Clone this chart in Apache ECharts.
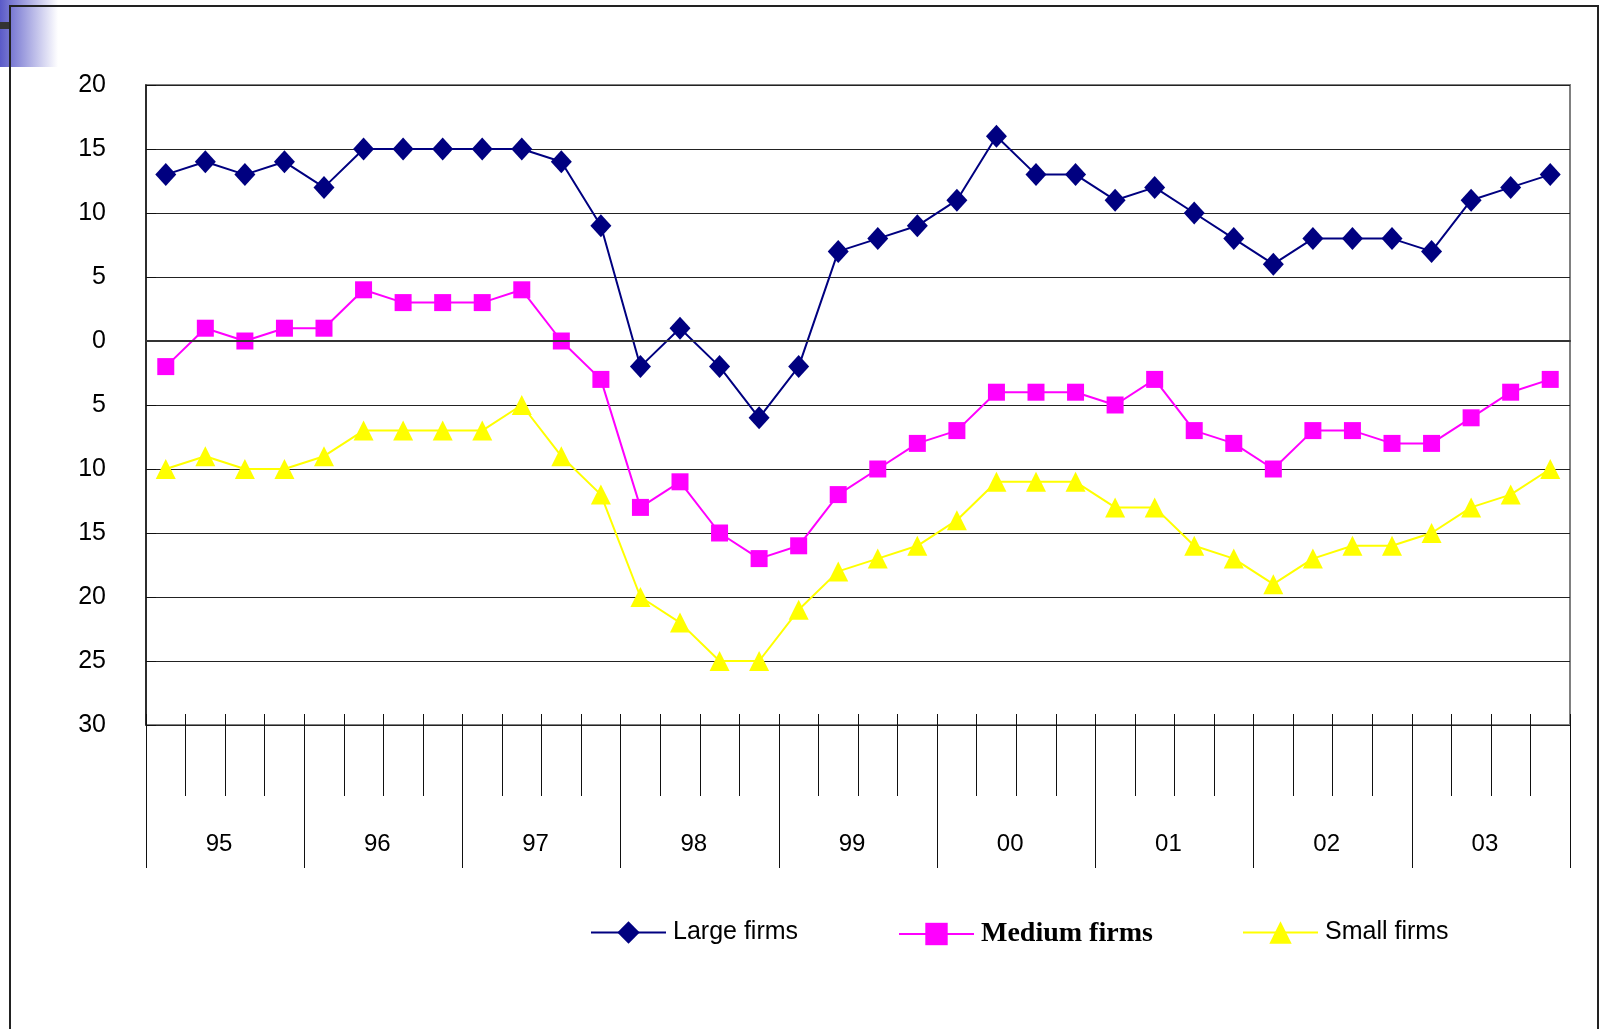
<!DOCTYPE html>
<html>
<head>
<meta charset="utf-8">
<title>Large, medium and small firms</title>
<script src="https://cdn.jsdelivr.net/npm/echarts@6/dist/echarts.min.js"></script>
<style>
  html, body { margin: 0; padding: 0; background: #fff; }
  #chart { width: 1600px; height: 1029px; }
</style>
</head>
<body>
<div id="chart"></div>
<script>
// Year labels along the bottom band, four quarters per year
const yearLabels = ['95', '96', '97', '98', '99', '00', '01', '02', '03'];
const quarterLabels = [];
yearLabels.forEach(function (y) {
  for (let q = 1; q <= 4; q++) quarterLabels.push(y + ' Q' + q);
});

// Quarterly balances by firm size
const largeFirms = [13, 14, 13, 14, 12, 15, 15, 15, 15, 15, 14, 9,
                    -2, 1, -2, -6, -2, 7, 8, 9, 11, 16, 13, 13,
                    11, 12, 10, 8, 6, 8, 8, 8, 7, 11, 12, 13];
const mediumFirms = [-2, 1, 0, 1, 1, 4, 3, 3, 3, 4, 0, -3,
                     -13, -11, -15, -17, -16, -12, -10, -8, -7, -4, -4, -4,
                     -5, -3, -7, -8, -10, -7, -7, -8, -8, -6, -4, -3];
const smallFirms = [-10, -9, -10, -10, -9, -7, -7, -7, -7, -5, -9, -12,
                    -20, -22, -25, -25, -21, -18, -17, -16, -14, -11, -11, -11,
                    -13, -13, -16, -17, -19, -17, -16, -16, -15, -13, -12, -10];

const FONT = '"Liberation Sans", Arial, sans-serif';

const chart = echarts.init(document.getElementById('chart'), null, { renderer: 'canvas' });

function legendBox(name, left, textStyle) {
  return {
    data: [name],
    left: left,
    top: 920,
    padding: 0,
    itemWidth: 75,
    itemHeight: 28,
    itemGap: 0,
    selectedMode: false,
    textStyle: Object.assign({ color: '#000', fontSize: 25, fontFamily: FONT, padding: [2, 0, 0, 2] }, textStyle || {})
  };
}

chart.setOption({
  backgroundColor: '#fff',
  animation: false,
  grid: {
    left: 146, top: 85, width: 1424, height: 640,
    show: true, borderColor: '#808080', borderWidth: 2, backgroundColor: 'transparent'
  },
  legend: [
    legendBox('Large firms', 590),
    legendBox('Medium firms', 898, { fontFamily: '"Liberation Serif", "Times New Roman", serif', fontWeight: 'bold', fontSize: 28 }),
    legendBox('Small firms', 1242)
  ],
  xAxis: [
    { // baseline of the plot
      type: 'category', data: quarterLabels, boundaryGap: true, position: 'bottom',
      axisLine: { show: true, lineStyle: { color: '#333', width: 2 } },
      axisTick: { show: false }, axisLabel: { show: false }, splitLine: { show: false }, z: 5
    },
    { // quarter dividers
      type: 'category', data: quarterLabels, boundaryGap: true, position: 'bottom', offset: -11,
      axisLine: { show: false },
      axisTick: { show: true, interval: 0, length: 82, lineStyle: { color: '#111', width: 1 } },
      axisLabel: { show: false }, splitLine: { show: false }
    },
    { // year dividers and labels
      type: 'category', data: yearLabels, boundaryGap: true, position: 'bottom', offset: -11,
      axisLine: { show: false },
      axisTick: { show: true, interval: 0, length: 154, lineStyle: { color: '#111', width: 1 } },
      axisLabel: {
        show: true, interval: 0, margin: 118, fontSize: 24, color: '#000', fontFamily: FONT,
        padding: [0, 12, 0, 0]
      },
      splitLine: { show: false }
    }
  ],
  yAxis: {
    type: 'value', min: -30, max: 20, interval: 5,
    axisLine: { show: true, lineStyle: { color: '#111', width: 1.5 } },
    axisTick: { show: true, inside: true, length: 10, lineStyle: { color: '#111' } },
    axisLabel: {
      margin: 40, fontSize: 25, color: '#000', fontFamily: FONT,
      formatter: function (v) { return String(Math.abs(v)); }
    },
    splitLine: { show: true, lineStyle: { color: '#222', width: 1 } }
  },
  series: [
    {
      name: 'Large firms', type: 'line', xAxisIndex: 0, data: largeFirms,
      symbol: 'diamond', symbolSize: [21, 23], showAllSymbol: true,
      lineStyle: { color: '#000080', width: 2 },
      itemStyle: { color: '#000080' }, z: 4
    },
    {
      name: 'Medium firms', type: 'line', xAxisIndex: 0, data: mediumFirms,
      symbol: 'rect', symbolSize: 17, showAllSymbol: true,
      lineStyle: { color: '#FF00FF', width: 2 },
      itemStyle: { color: '#FF00FF' }, z: 3
    },
    {
      name: 'Small firms', type: 'line', xAxisIndex: 0, data: smallFirms,
      symbol: 'triangle', symbolSize: [20, 20], showAllSymbol: true,
      lineStyle: { color: '#FFFF00', width: 2 },
      itemStyle: { color: '#FFFF00' }, z: 2
    }
  ],
  graphic: [
    { // slide corner ornament
      type: 'rect', left: 0, top: 0, z: -10,
      shape: { width: 58, height: 67 },
      style: {
        fill: new echarts.graphic.LinearGradient(0, 0, 1, 0, [
          { offset: 0, color: '#5a5ac8' },
          { offset: 1, color: '#ffffff' }
        ])
      }
    },
    {
      type: 'rect', left: 0, top: 22, z: -9,
      shape: { width: 10, height: 7 },
      style: { fill: '#333' }
    },
    { // outer frame
      type: 'polyline', z: -8,
      shape: { points: [[10, 1029], [10, 6], [1598, 6], [1598, 1029]] },
      style: { stroke: '#222', lineWidth: 2, fill: null }
    }
  ]
});
</script>
</body>
</html>
